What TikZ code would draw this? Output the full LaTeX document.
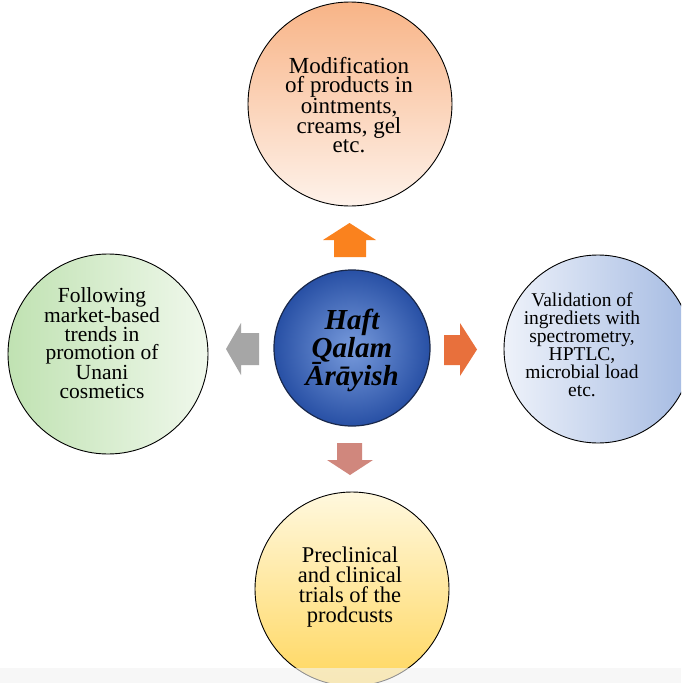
\documentclass[tikz,border=0pt]{standalone}
\usepackage{fontspec}
\setmainfont{Liberation Serif}
\usetikzlibrary{shapes.geometric}
\definecolor{topA}{RGB}{248,180,135}
\definecolor{topB}{RGB}{254,242,234}
\definecolor{leftA}{RGB}{192,226,178}
\definecolor{leftB}{RGB}{240,248,236}
\definecolor{rightA}{RGB}{238,242,250}
\definecolor{rightB}{RGB}{164,186,226}
\definecolor{botA}{RGB}{255,248,222}
\definecolor{botB}{RGB}{255,215,95}
\definecolor{midIn}{RGB}{120,155,220}
\definecolor{midOut}{RGB}{40,80,165}
\definecolor{midLine}{RGB}{25,40,75}
\definecolor{arrUp}{RGB}{250,130,30}
\definecolor{arrRight}{RGB}{232,112,60}
\definecolor{arrLeft}{RGB}{166,166,166}
\definecolor{arrDown}{RGB}{208,135,125}
\definecolor{bandGray}{RGB}{243,243,243}
\tikzset{
  circ/.style={circle, draw=black, line width=0.9pt, inner sep=0pt},
  txt/.style={align=center, inner sep=0pt, text=black},
}
\begin{document}
\begin{tikzpicture}[x=1pt,y=-1pt]
\useasboundingbox (0,0) rectangle (681,683);
\fill[white] (0,0) rectangle (681,683);
\clip (0,0) rectangle (681,683);
% circles
\node[circ, minimum size=204pt, top color=topA, bottom color=topB] (top) at (350,104) {};
\node[circ, minimum size=200pt, left color=leftA, right color=leftB] (left) at (108,354) {};
\node[circ, minimum size=188pt, left color=rightA, right color=rightB] (right) at (598,349) {};
\node[circ, minimum size=194pt, top color=botA, bottom color=botB] (bottom) at (352,589) {};
\node[circle, draw=midLine, line width=1.2pt, inner sep=0pt, minimum size=156pt, inner color=midIn, outer color=midOut] (mid) at (352,348) {};
% texts
\node[txt, font=\fontsize{23}{19.5}\selectfont] (toptext) at (349,105) {Modification\\of products in\\ointments,\\creams, gel\\etc.};
\node[txt, font=\fontsize{21.5}{18.5}\selectfont] (lefttext) at (102,343) {Following\\market-based\\trends in\\promotion of\\Unani\\cosmetics};
\node[txt, font=\fontsize{19.5}{17.9}\selectfont] (righttext) at (582,345) {Validation of\\ingrediets with\\spectrometry,\\HPTLC,\\microbial load\\etc.};
\node[txt, font=\fontsize{22.5}{20.2}\selectfont] (bottomtext) at (350,587) {Preclinical\\and clinical\\trials of the\\prodcusts};
\node[txt, font=\bfseries\itshape\fontsize{29}{28}\selectfont] (midtext) at (352,350) {Haft\\Qalam\\Ārāyish};
% block arrows
\fill[arrUp] (334,257) -- (334,240) -- (323,240) -- (349.5,223) -- (376,240) -- (366,240) -- (366,257) -- cycle;
\fill[arrRight] (444,335) -- (460,335) -- (460,323) -- (477,349.5) -- (460,376) -- (460,365) -- (444,365) -- cycle;
\fill[arrLeft] (259,333) -- (241,333) -- (241,323) -- (226,349) -- (241,375) -- (241,365) -- (259,365) -- cycle;
\fill[arrDown] (337,443) -- (362,443) -- (362,460) -- (373,460) -- (350,475) -- (327,460) -- (337,460) -- cycle;
% faint band at the bottom edge
\fill[bandGray, opacity=0.6] (0,668) rectangle (681,683);
\end{tikzpicture}
\end{document}
